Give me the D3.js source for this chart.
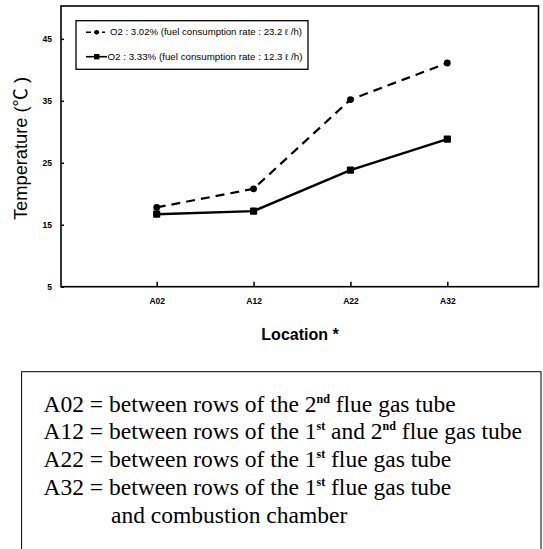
<!DOCTYPE html>
<html><head><meta charset="utf-8">
<script src="https://cdn.jsdelivr.net/npm/d3@7"></script>
<style>body{margin:0;background:#fff}svg{display:block}</style>
</head><body>
<script>
const categories = ["A02","A12","A22","A32"];
const seriesHigh = [17.8, 20.8, 35.2, 41.1];
const seriesLow = [16.7, 17.2, 23.8, 28.8];
const seriesNames = ["O2 : 3.02% (fuel consumption rate : 23.2 ℓ /h)", "O2 : 3.33% (fuel consumption rate : 12.3 ℓ /h)"];
const yTicks = [5, 15, 25, 35, 45];
const notes = [
  [["A02 = between rows of the 2",""],["nd","sup"],[" flue gas tube",""]],
  [["A12 = between rows of the 1",""],["st","sup"],[" and 2",""],["nd","sup"],[" flue gas tube",""]],
  [["A22 = between rows of the 1",""],["st","sup"],[" flue gas tube",""]],
  [["A32 = between rows of the 1",""],["st","sup"],[" flue gas tube",""]],
  [["and combustion chamber","indent"]]
];

const W = 543, H = 549;
const svg = d3.select("body").append("svg").attr("width", W).attr("height", H);
const L = 61, R = 538.5, T = 6, B = 286.7;
const x = d3.scaleLinear().domain([0, 5]).range([59.8, 544.2]);
const y = d3.scaleLinear().domain([5, 50.3]).range([B, T]);
const sans = "Liberation Sans, Arial, sans-serif";

// frame
svg.append("rect").attr("x", L).attr("y", T).attr("width", R - L).attr("height", B - T)
  .attr("fill", "none").attr("stroke", "#000").attr("stroke-width", 1.6);

// y ticks
const ya = svg.append("g").attr("transform", `translate(${L},0)`)
  .call(d3.axisLeft(y).tickValues(yTicks).tickSize(-3).tickPadding(9));
ya.select(".domain").remove();
ya.selectAll("line").attr("stroke-width", 1.5);
ya.selectAll("text").attr("font-family", sans).attr("font-size", 8.5).attr("font-weight", "bold");

// x ticks
const xa = svg.append("g").attr("transform", `translate(0,${B})`)
  .call(d3.axisBottom(x).tickValues([1,2,3,4]).tickFormat(d => categories[d-1]).tickSize(-5).tickPadding(11.5));
xa.select(".domain").remove();
xa.selectAll("line").attr("stroke-width", 1.5);
xa.selectAll("text").attr("font-family", sans).attr("font-size", 8.5).attr("font-weight", "bold");

// axis titles
const yt = svg.append("text").attr("transform", `translate(27,148.5) rotate(-90)`)
  .attr("text-anchor", "middle").attr("font-family", sans)
  .attr("font-size", 18).attr("textLength", 143).attr("lengthAdjust", "spacingAndGlyphs");
yt.append("tspan").text("Temperature (");
yt.append("tspan").attr("font-family", "Noto Sans CJK SC").text("℃");
yt.append("tspan").text(" )");
svg.append("text").attr("x", 300).attr("y", 340).attr("text-anchor", "middle")
  .attr("font-family", sans).attr("font-size", 16).attr("font-weight", "bold")
  .text("Location *");

const line = d3.line().x((d, i) => x(i + 1)).y(d => y(d));
svg.append("path").datum(seriesHigh).attr("d", line).attr("fill", "none").attr("stroke", "#000")
  .attr("stroke-width", 2.2).attr("stroke-dasharray", "9,6");
svg.append("path").datum(seriesLow).attr("d", line).attr("fill", "none").attr("stroke", "#000")
  .attr("stroke-width", 2.4);
svg.selectAll("circle.h").data(seriesHigh).enter().append("circle").attr("class", "h")
  .attr("cx", (d, i) => x(i + 1)).attr("cy", d => y(d)).attr("r", 3.4).attr("fill", "#000");
svg.selectAll("rect.l").data(seriesLow).enter().append("rect").attr("class", "l")
  .attr("x", (d, i) => x(i + 1) - 3.6).attr("y", d => y(d) - 3.6).attr("width", 7.2).attr("height", 7.2)
  .attr("rx", 1).attr("fill", "#000");

// legend
const lg = svg.append("g");
lg.append("rect").attr("x", 76).attr("y", 20.7).attr("width", 232).attr("height", 48.6)
  .attr("fill", "#fff").attr("stroke", "#000").attr("stroke-width", 1.3);
[0, 1].forEach(i => {
  const yy = i === 0 ? 32.3 : 56.7;
  lg.append("line").attr("x1", 86).attr("x2", i === 0 ? 105 : 107).attr("y1", yy).attr("y2", yy)
    .attr("stroke", "#000").attr("stroke-width", 1.6).attr("stroke-dasharray", i === 0 ? "5,3" : null);
  if (i === 0) lg.append("circle").attr("cx", 96.7).attr("cy", yy).attr("r", 2.4).attr("fill", "#000");
  else lg.append("rect").attr("x", 94).attr("y", yy - 2.7).attr("width", 5.4).attr("height", 5.4).attr("fill", "#000");
  lg.append("text").attr("x", i === 0 ? 110 : 107.5).attr("y", yy + 3)
    .attr("font-family", sans).attr("font-size", 8.6)
    .attr("textLength", i === 0 ? 192 : 195).attr("lengthAdjust", "spacingAndGlyphs")
    .text(seriesNames[i]);
});

// notes box
svg.append("rect").attr("x", 21.6).attr("y", 371.7).attr("width", 519.4).attr("height", 190)
  .attr("fill", "none").attr("stroke", "#000").attr("stroke-width", 1);
notes.forEach((parts, k) => {
  const t = svg.append("text").attr("x", parts[0][1] === "indent" ? 111 : 43.5).attr("y", 411.7 + k * 27.7)
    .attr("font-family", "Liberation Serif, Times New Roman, serif").attr("font-size", 23.5);
  parts.forEach(([s, kind], j) => {
    const ts = t.append("tspan").text(s);
    if (kind === "sup") ts.attr("font-size", 12).attr("font-weight", "bold").attr("dy", -9);
    else if (j > 0) ts.attr("dy", 9);
  });
});
</script>
</body></html>
